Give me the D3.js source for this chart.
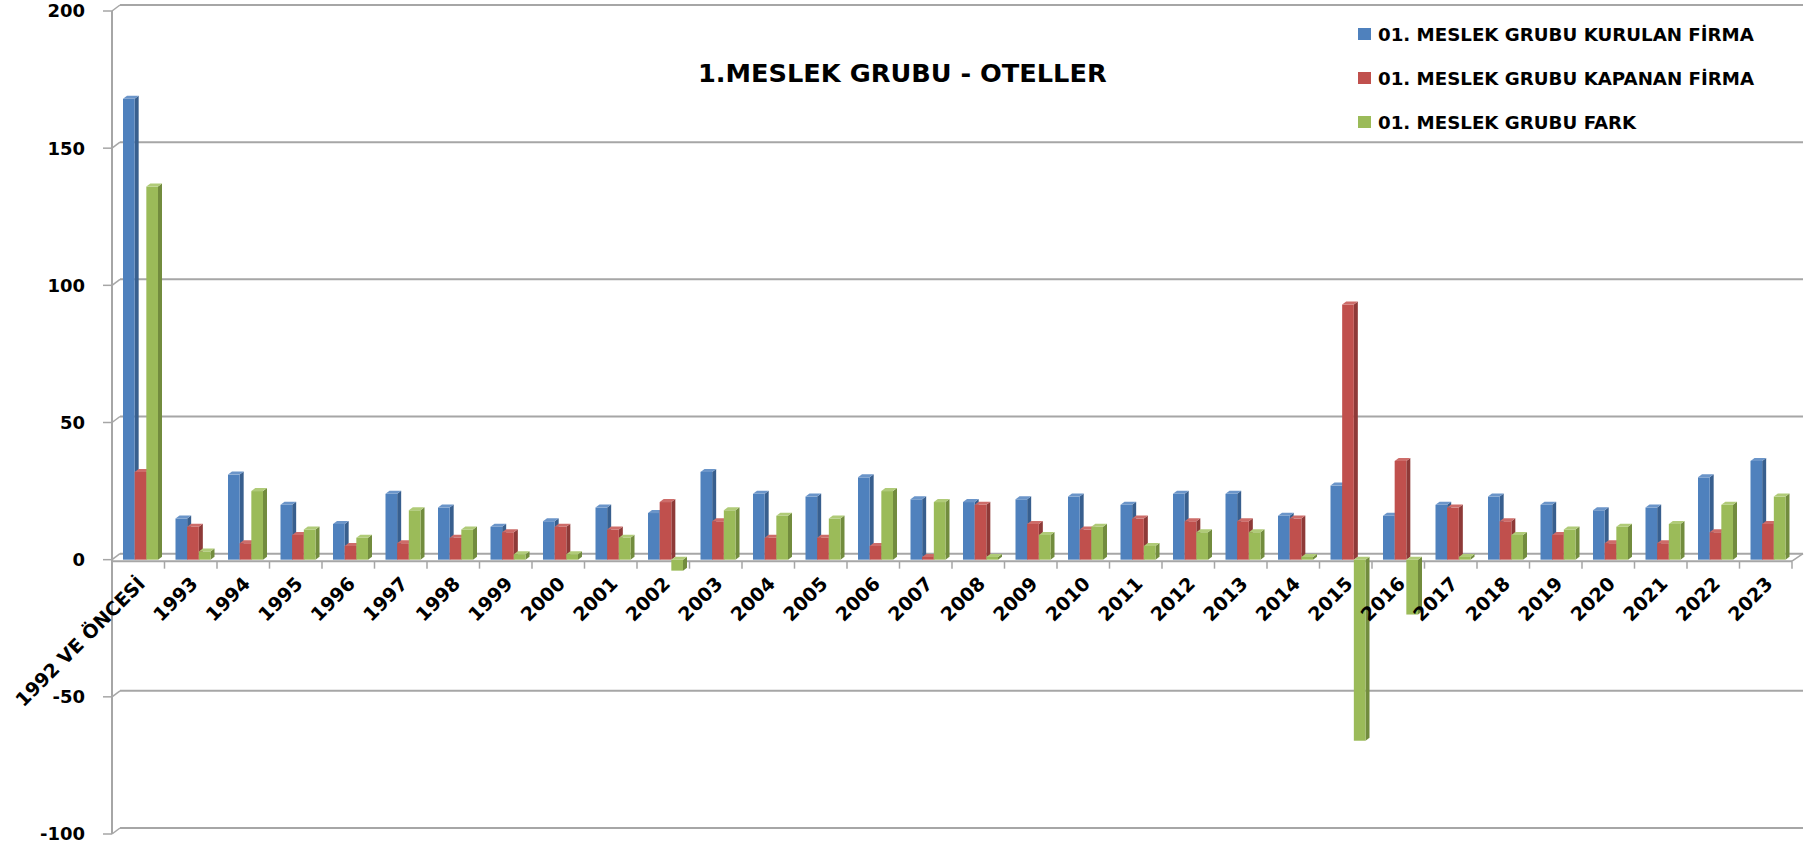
<!DOCTYPE html>
<html>
<head>
<meta charset="utf-8">
<script src="https://cdn.jsdelivr.net/npm/d3@7"></script>
<style>
  html, body { margin: 0; padding: 0; background: #ffffff; }
  svg { display: block; }
  text { font-family: "DejaVu Sans", Verdana, sans-serif; font-weight: bold; fill: #000; }
</style>
</head>
<body>
<svg id="chart" width="1814" height="846"></svg>
<script>
const categories = ["1992 VE ÖNCESİ","1993","1994","1995","1996","1997","1998","1999","2000","2001","2002","2003","2004","2005","2006","2007","2008","2009","2010","2011","2012","2013","2014","2015","2016","2017","2018","2019","2020","2021","2022","2023"];
const kurulan = [168,15,31,20,13,24,19,12,14,19,17,32,24,23,30,22,21,22,23,20,24,24,16,27,16,20,23,20,18,19,30,36];
const kapanan = [32,12,6,9,5,6,8,10,12,11,21,14,8,8,5,1,20,13,11,15,14,14,15,93,36,19,14,9,6,6,10,13];
const fark = [136,3,25,11,8,18,11,2,2,8,-4,18,16,15,25,21,1,9,12,5,10,10,1,-66,-20,1,9,11,12,13,20,23];
const seriesNames = ["01. MESLEK GRUBU KURULAN FİRMA","01. MESLEK GRUBU KAPANAN FİRMA","01. MESLEK GRUBU FARK"];
const yTicks = [-100,-50,0,50,100,150,200];
const titleText = "1.MESLEK GRUBU - OTELLER";

const colors = [
  {front:"#4F81BD", side:"#385F8E", top:"#6B95C9"},
  {front:"#C0504D", side:"#8E3A38", top:"#CD6C69"},
  {front:"#9BBB59", side:"#728C3E", top:"#B0CB78"}
];
const seriesValues = [kurulan, kapanan, fark];

const svg = d3.select("#chart");
const axisX = 112, plotRight = 1792;
const wallDx = 8, wallDy = -6;
const barDx = 4, barDy = -3;

const x = d3.scaleBand().domain(categories).range([axisX, plotRight]).paddingInner(0).paddingOuter(0);
const xs = d3.scaleBand().domain([0,1,2]).range([11, 46]).paddingInner(0);
const y = d3.scaleLinear().domain([-100, 200]).range([834, 11]);

const gridColor = "#A6A6A6";

const grid = svg.append("g");
yTicks.forEach(v => {
  const yy = y(v);
  grid.append("line").attr("x1", axisX + wallDx).attr("x2", plotRight + 11)
    .attr("y1", yy + wallDy).attr("y2", yy + wallDy)
    .attr("stroke", gridColor).attr("stroke-width", 2);
  grid.append("line").attr("x1", axisX).attr("x2", axisX + wallDx)
    .attr("y1", yy).attr("y2", yy + wallDy)
    .attr("stroke", gridColor).attr("stroke-width", 1.5);
  grid.append("line").attr("x1", axisX - 9).attr("x2", axisX)
    .attr("y1", yy).attr("y2", yy)
    .attr("stroke", gridColor).attr("stroke-width", 1.5);
});
grid.append("line").attr("x1", axisX).attr("x2", axisX).attr("y1", y(200)).attr("y2", y(-100))
  .attr("stroke", gridColor).attr("stroke-width", 2);

const y0 = y(0);
grid.append("line").attr("x1", axisX).attr("x2", plotRight).attr("y1", y0 + 1.5).attr("y2", y0 + 1.5)
  .attr("stroke", gridColor).attr("stroke-width", 2);
grid.append("line").attr("x1", plotRight).attr("x2", plotRight + 11).attr("y1", y0 + 1.5).attr("y2", y0 + wallDy)
  .attr("stroke", gridColor).attr("stroke-width", 1.5);
categories.forEach(c => {
  const xx = x(c) + x.bandwidth();
  grid.append("line").attr("x1", xx).attr("x2", xx).attr("y1", y0 + 1.5).attr("y2", y0 + 9)
    .attr("stroke", gridColor).attr("stroke-width", 1.5);
});

const yl = svg.append("g");
yTicks.forEach(v => {
  yl.append("text").attr("x", 85).attr("y", y(v)).attr("dy", "0.36em")
    .attr("text-anchor", "end").attr("font-size", 18).text(v);
});

const bars = svg.append("g");
categories.forEach((c, i) => {
  seriesValues.forEach((vals, s) => {
    const v = vals[i];
    const col = colors[s];
    const bx = x(c) + xs(s);
    const w = xs.bandwidth();
    const yTop = Math.min(y(v), y0);
    const yBot = Math.max(y(v), y0);
    bars.append("path")
      .attr("d", `M${bx + w},${yTop} L${bx + w + barDx},${yTop + barDy} L${bx + w + barDx},${yBot + barDy} L${bx + w},${yBot} Z`)
      .attr("fill", col.side);
    bars.append("rect").attr("x", bx).attr("y", yTop).attr("width", w).attr("height", Math.max(0.5, yBot - yTop))
      .attr("fill", col.front);
    bars.append("path")
      .attr("d", `M${bx},${yTop} L${bx + barDx},${yTop + barDy} L${bx + w + barDx},${yTop + barDy} L${bx + w},${yTop} Z`)
      .attr("fill", col.top);
  });
});

const xl = svg.append("g");
categories.forEach(c => {
  const cx = x(c) + x.bandwidth() / 2 + 8;
  const cy = 585;
  xl.append("text").attr("transform", `translate(${cx},${cy}) rotate(-45)`)
    .attr("text-anchor", "end").attr("font-size", 19).text(c);
});

function fitWidth(sel, target) {
  const fs = parseFloat(sel.attr("font-size"));
  const len = sel.node().getComputedTextLength();
  sel.attr("font-size", (fs * target / len).toFixed(2));
}

const t = svg.append("text").attr("x", 698).attr("y", 82).attr("font-size", 25).text(titleText);
fitWidth(t, 409);

const legendY = [34, 78, 122];
seriesNames.forEach((name, s) => {
  svg.append("rect").attr("x", 1358).attr("y", legendY[s] - 6).attr("width", 13).attr("height", 12)
    .attr("fill", colors[s].front);
  svg.append("text").attr("class", "legend").attr("x", 1378).attr("y", legendY[s]).attr("dy", "0.36em")
    .attr("font-size", 18).text(name);
});
const lt0 = svg.select("text.legend");
const scaleF = 376 / lt0.node().getComputedTextLength();
svg.selectAll("text.legend").attr("font-size", (18 * scaleF).toFixed(2));
</script>
</body>
</html>
